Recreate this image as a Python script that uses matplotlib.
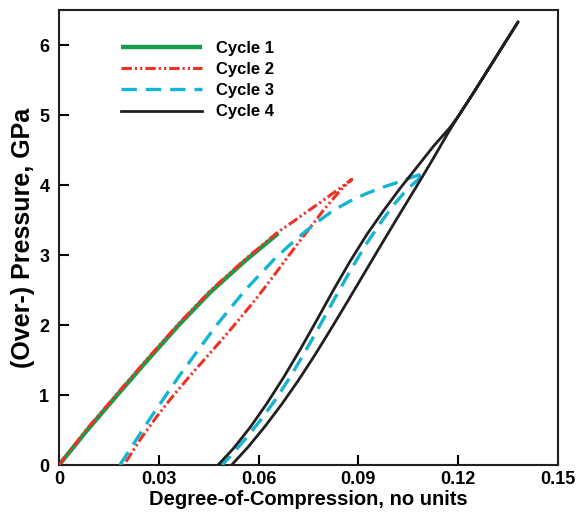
import matplotlib
matplotlib.use("Agg")
import matplotlib.pyplot as plt

plt.rcParams['font.family'] = ['Liberation Sans', 'DejaVu Sans']
plt.rcParams['font.weight'] = 'bold'

# Cycle 1 (loading only)
c1_x = [0, 0.0085, 0.0175, 0.027, 0.036, 0.0455, 0.056, 0.0659]
c1_y = [0, 0.50, 1.00, 1.52, 2.00, 2.47, 2.92, 3.31]

# Cycle 2 (loading then unloading)
c2_x = [0, 0.0085, 0.0175, 0.027, 0.036, 0.0455, 0.056, 0.0659, 0.0705, 0.0749, 0.0785, 0.082, 0.0852, 0.088,
        0.0860, 0.0845, 0.0795, 0.0745, 0.0695, 0.0645, 0.0595, 0.0545, 0.0495, 0.0445, 0.0395,
        0.0345, 0.0295, 0.0245, 0.0195]
c2_y = [0, 0.52, 1.02, 1.54, 2.02, 2.49, 2.94, 3.33, 3.48, 3.63, 3.75, 3.87, 3.98, 4.08,
        3.99, 3.92, 3.64, 3.33, 3.02, 2.70, 2.39, 2.10, 1.82, 1.55, 1.28,
        1.00, 0.70, 0.37, 0]

# Cycle 3
c3_x = [0.0183, 0.0274, 0.0364, 0.0474, 0.056, 0.0649, 0.0695, 0.0739, 0.0785, 0.0825, 0.0875, 0.0925,
        0.0975, 0.1025, 0.1060, 0.1100,
        0.1080, 0.1045, 0.1005, 0.0965, 0.0920, 0.0875, 0.0830, 0.0785, 0.0740, 0.0694, 0.0650,
        0.0604, 0.0560, 0.0514, 0.0490]
c3_y = [0, 0.667, 1.29, 2.00, 2.50, 2.95, 3.15, 3.33, 3.50, 3.64, 3.77, 3.88,
        3.97, 4.05, 4.11, 4.17,
        4.08, 3.93, 3.71, 3.45, 3.13, 2.77, 2.39, 2.00, 1.62, 1.25, 0.93,
        0.63, 0.37, 0.12, 0]

# Cycle 4
c4_x = [0.0478, 0.0525, 0.0575, 0.0625, 0.0675, 0.0725, 0.0775, 0.0825, 0.0875, 0.0925, 0.0975,
        0.1025, 0.1075, 0.1125, 0.1175, 0.1200, 0.1245, 0.1290, 0.1335, 0.1380,
        0.1335, 0.1290, 0.1245, 0.1200, 0.1169, 0.1119, 0.1069, 0.1019, 0.0969, 0.0919, 0.0869,
        0.0819, 0.0769, 0.0719, 0.0669, 0.0619, 0.0569, 0.0519]
c4_y = [0, 0.24, 0.54, 0.88, 1.25, 1.65, 2.07, 2.50, 2.91, 3.29, 3.63,
        3.95, 4.25, 4.55, 4.82, 4.98, 5.31, 5.65, 5.99, 6.33,
        5.99, 5.65, 5.31, 4.98, 4.74, 4.33, 3.935, 3.545, 3.15, 2.75, 2.35,
        1.955, 1.57, 1.205, 0.865, 0.55, 0.26, 0]

labels = ['Cycle 1', 'Cycle 2', 'Cycle 3', 'Cycle 4']
xticks = [0, 0.03, 0.06, 0.09, 0.12, 0.15]
xticklabels = ['0', '0.03', '0.06', '0.09', '0.12', '0.15']
yticks = [0, 1, 2, 3, 4, 5, 6]

fig = plt.figure(figsize=(5.76, 5.15), dpi=100)
ax = fig.add_axes([59/576, 50/515, 499/576, 455/515])

ax.plot(c1_x, c1_y, color='#14a04a', lw=3.2, solid_capstyle='butt', label=labels[0], zorder=2)
ax.plot(c2_x, c2_y, color='#ee3124', lw=2.2, dashes=(3.4, 1.0, 0.7, 1.0, 0.7, 1.0),
        label=labels[1], zorder=3)
ax.plot(c3_x, c3_y, color='#15b4d2', lw=2.4, dashes=(4.6, 2.7), label=labels[2], zorder=4)
ax.plot(c4_x, c4_y, color='#231f20', lw=2.0, label=labels[3], zorder=5)

ax.set_xlim(0, 0.15)
ax.set_ylim(0, 6.5)
ax.set_xticks(xticks)
ax.set_xticklabels(xticklabels)
ax.set_yticks(yticks)
ax.tick_params(direction='in', length=7, width=1.5, labelsize=13, top=False, right=False)
ax.tick_params(axis='x', pad=4)
ax.tick_params(axis='y', pad=7)
for s in ax.spines.values():
    s.set_linewidth(1.5)
    s.set_color('#231f20')

ax.set_xlabel('Degree-of-Compression, no units', fontsize=14.5, fontweight='bold', labelpad=2)
ax.set_ylabel('(Over-) Pressure, GPa', fontsize=18, fontweight='bold', labelpad=3)

leg = ax.legend(loc='upper left', bbox_to_anchor=(0.095, 0.965), frameon=False,
                prop={'weight': 'bold', 'size': 12}, handlelength=4.85, handletextpad=0.8,
                labelspacing=0.37)

fig.savefig('out.png', dpi=100)
